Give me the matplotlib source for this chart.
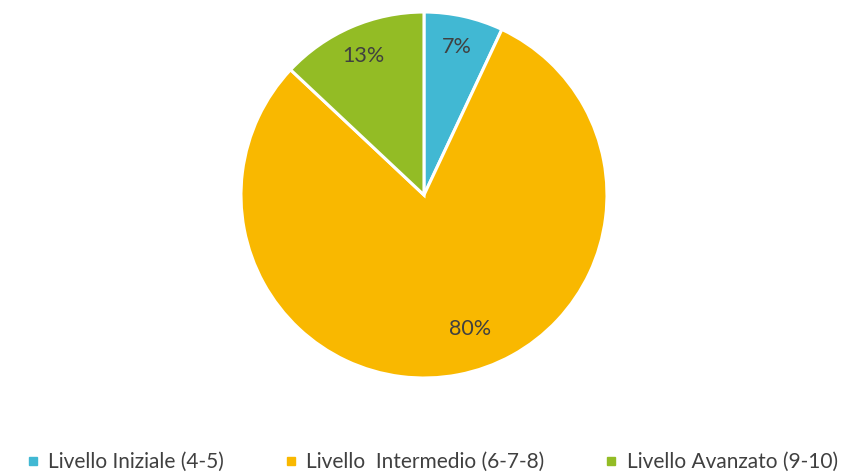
import matplotlib.pyplot as plt
from matplotlib.lines import Line2D

plt.rcParams["font.family"] = ["Lato", "DejaVu Sans"]

labels = ["Livello Iniziale (4-5)", "Livello  Intermedio (6-7-8)", "Livello Avanzato (9-10)"]
values = [7, 80, 13]
colors = ["#41B8D3", "#F9B800", "#93BC25"]
text_color = "#404040"

fig = plt.figure(figsize=(8.56, 4.75), dpi=100)
ax = fig.add_axes([0.2815, 0.2042, 0.4276, 0.7705])

wedges, texts, autotexts = ax.pie(
    values, colors=colors, startangle=90, counterclock=False,
    autopct="%d%%", pctdistance=0.83, radius=1,
    wedgeprops=dict(edgecolor="white", linewidth=2.2),
    textprops=dict(color=text_color, fontsize=15.5),
)
# Excel puts the big slice label nearer the right edge
autotexts[1].set_position((0.25, -0.73))
ax.set_xlim(-1, 1)
ax.set_ylim(-1, 1)
ax.set_aspect("equal")

handles = [Line2D([0], [0], marker="s", linestyle="none", markersize=6,
                  markerfacecolor=c, markeredgecolor=c) for c in colors]
leg = fig.legend(handles, labels, loc="center", bbox_to_anchor=(0.503, 0.027),
                 ncol=3, frameon=False, fontsize=15, handletextpad=0.3,
                 columnspacing=2.75, handlelength=0.9)
for t in leg.get_texts():
    t.set_color(text_color)

fig.savefig("out.png", dpi=100)
